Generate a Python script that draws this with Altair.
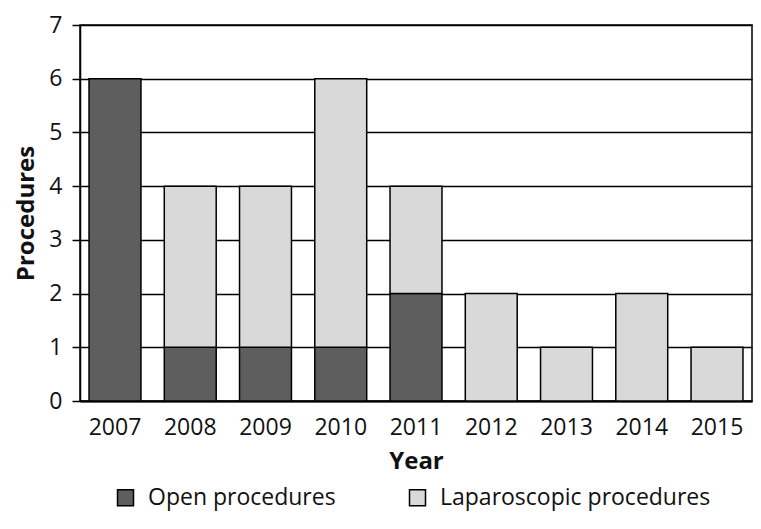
import altair as alt
import pandas as pd

years = ["2007", "2008", "2009", "2010", "2011", "2012", "2013", "2014", "2015"]
open_proc = [6, 1, 1, 1, 2, 0, 0, 0, 0]
lap_proc = [0, 3, 3, 5, 2, 2, 1, 2, 1]
series = ["Open procedures", "Laparoscopic procedures"]
colors = ["#5e5e5e", "#d9d9d9"]
y_ticks = [0, 1, 2, 3, 4, 5, 6, 7]

rows = []
for i, y in enumerate(years):
    rows.append({"Year": y, "Type": series[0], "Procedures": open_proc[i], "ord": 0})
    rows.append({"Year": y, "Type": series[1], "Procedures": lap_proc[i], "ord": 1})
df = pd.DataFrame(rows)
df = df[df["Procedures"] > 0]

FONT = "Open Sans"

chart = alt.Chart(df).mark_bar(stroke="black", strokeWidth=1.5).encode(
    x=alt.X(
        "Year:N",
        sort=years,
        scale=alt.Scale(paddingInner=0.31, paddingOuter=0.12),
        axis=alt.Axis(
            title="Year",
            labelAngle=0,
            labelFontSize=23,
            labelColor="#111111",
            labelPadding=15,
            ticks=False,
            tickSize=0,
            domainColor="black",
            domainWidth=2,
            titleFontSize=24,
            titleFontWeight="bold",
            titleColor="#111111",
            titleY=48,
            titleBaseline="top",
        ),
    ),
    y=alt.Y(
        "Procedures:Q",
        stack="zero",
        scale=alt.Scale(domain=[0, 7], nice=False),
        axis=alt.Axis(
            title="Procedures",
            values=y_ticks,
            labelFontSize=23,
            labelColor="#111111",
            labelPadding=10,
            tickSize=8,
            tickColor="black",
            tickWidth=1.5,
            domainColor="black",
            domainWidth=1.5,
            grid=True,
            gridColor="black",
            gridWidth=1.5,
            gridOpacity=1,
            titleFontSize=24,
            titleFontWeight="bold",
            titleColor="#111111",
            titleX=-47,
            titleY=188,
            titleAlign="center",
            titleBaseline="alphabetic",
            titleAngle=270,
        ),
    ),
    color=alt.Color(
        "Type:N",
        scale=alt.Scale(domain=series, range=colors),
        legend=alt.Legend(
            title=None,
            orient="none",
            direction="horizontal",
            legendX=34,
            legendY=461,
            symbolType="square",
            symbolSize=256,
            symbolStrokeColor="black",
            symbolStrokeWidth=1.5,
            symbolOpacity=1,
            labelFontSize=23,
            labelColor="#111111",
            labelOffset=11,
            labelLimit=500,
            columnPadding=70,
        ),
    ),
    order=alt.Order("ord:Q", sort="ascending"),
).properties(
    width=672,
    height=376,
    autosize=alt.AutoSizeParams(type="none"),
    padding={"left": 72, "top": 17, "right": 1, "bottom": 115},
).configure(
    font=FONT,
).configure_view(
    stroke="black",
    strokeWidth=1.5,
)

chart.save("out.html", embed_options={"renderer": "svg", "actions": False})
